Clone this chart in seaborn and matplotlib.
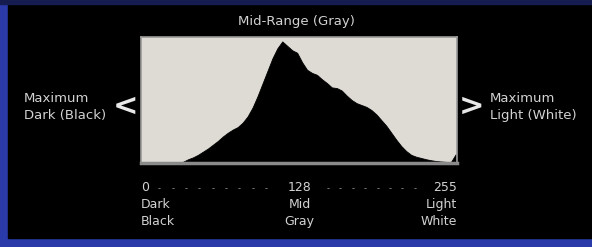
import numpy as np
import pandas as pd
import matplotlib
matplotlib.use("Agg")
import matplotlib.pyplot as plt
from matplotlib.patches import Rectangle
import seaborn as sns

# tonal levels (every 4th value) and relative pixel counts
levels = list(range(0, 256, 4))
counts = [0, 0, 0, 0, 0, 0, 0, 0.003, 0.01, 0.03, 0.045, 0.065, 0.09, 0.115, 0.145, 0.175,
          0.21, 0.24, 0.265, 0.285, 0.32, 0.37, 0.44, 0.53, 0.63, 0.73, 0.83, 0.91, 0.965, 0.93,
          0.895, 0.875, 0.80, 0.74, 0.715, 0.70, 0.665, 0.635, 0.60, 0.595, 0.575, 0.535, 0.50,
          0.475, 0.46, 0.445, 0.42, 0.385, 0.34, 0.295, 0.24, 0.185, 0.135, 0.095, 0.065, 0.05,
          0.04, 0.03, 0.022, 0.016, 0.012, 0.009, 0.007, 0.07]

tick_pos = [0, 128, 255]
tick_labels = ["0", "128", "255"]
tone_labels = ["Dark\nBlack", "Mid\nGray", "Light\nWhite"]
tick_align = ["left", "center", "right"]
dot_pos = list(np.linspace(15, 101, 9)) + list(np.linspace(151, 221, 8))

df = pd.DataFrame({"level": levels, "count": counts})

sns.set_style("white")
plt.rcParams["font.family"] = ["DejaVu Sans"]
txt = "#d2d2d2"

fig = plt.figure(figsize=(5.92, 2.47), dpi=100)
fig.patch.set_facecolor("#000000")
# blue frame around the slide
fig.patches.append(Rectangle((0, 0), 1, 1, transform=fig.transFigure, color="#2a3aa8", zorder=-3))
fig.patches.append(Rectangle((8 / 592, 9 / 247), 1, 1 - 9 / 247 - 4 / 247,
                             transform=fig.transFigure, color="#000000", zorder=-2))
fig.patches.append(Rectangle((0, 1 - 4 / 247), 1, 4 / 247, transform=fig.transFigure,
                             color="#141c50", zorder=-2))

ax = fig.add_axes([141 / 592, (247 - 163) / 247, 316 / 592, 126 / 247])
ax.set_facecolor("#dedbd5")

sns.histplot(data=df, x="level", weights="count", binwidth=4, binrange=(0, 256),
             element="poly", fill=True, color="black", alpha=1, linewidth=0.6, ax=ax)

ax.set_xlim(0, 255)
ax.set_ylim(0, 1.0)
ax.set_yticks([])
ax.set_xlabel("")
ax.set_ylabel("")

ax.set_xticks(tick_pos)
ax.set_xticklabels(tick_labels, color=txt, fontsize=9)
for lab, ha in zip(ax.get_xticklabels(), tick_align):
    lab.set_horizontalalignment(ha)
ax.set_xticks(dot_pos, minor=True)
ax.set_xticklabels(["-"] * len(dot_pos), minor=True, color="#9a9a9a", fontsize=6)
ax.tick_params(axis="x", which="major", length=0, pad=13)
ax.tick_params(axis="x", which="minor", length=0, pad=15)

for pos, lab, ha in zip(tick_pos, tone_labels, tick_align):
    ax.annotate(lab, xy=(pos, 0), xycoords=("data", "axes fraction"),
                xytext=(0, -25), textcoords="offset points", color=txt, fontsize=9,
                ha=ha, va="top", multialignment=ha, linespacing=1.45)

for side in ["left", "right", "top"]:
    ax.spines[side].set_color("#9a9a9a")
    ax.spines[side].set_linewidth(1.2)
ax.spines["bottom"].set_color("#8a8a8a")
ax.spines["bottom"].set_linewidth(2.5)

fig.text(296 / 592, 1 - 22 / 247, "Mid-Range (Gray)", color=txt, fontsize=9.5,
         ha="center", va="center")
fig.text(24 / 592, 1 - 107 / 247, "Maximum\nDark (Black)", color=txt, fontsize=9.5,
         ha="left", va="center", linespacing=1.45)
fig.text(125 / 592, 1 - 106 / 247, "<", color="#e8e8e8", fontsize=22, fontweight="bold",
         ha="center", va="center")
fig.text(472 / 592, 1 - 106 / 247, ">", color="#e8e8e8", fontsize=22, fontweight="bold",
         ha="center", va="center")
fig.text(490 / 592, 1 - 107 / 247, "Maximum\nLight (White)", color=txt, fontsize=9.5,
         ha="left", va="center", linespacing=1.45)

fig.savefig("out.png", dpi=100, facecolor=fig.get_facecolor())
